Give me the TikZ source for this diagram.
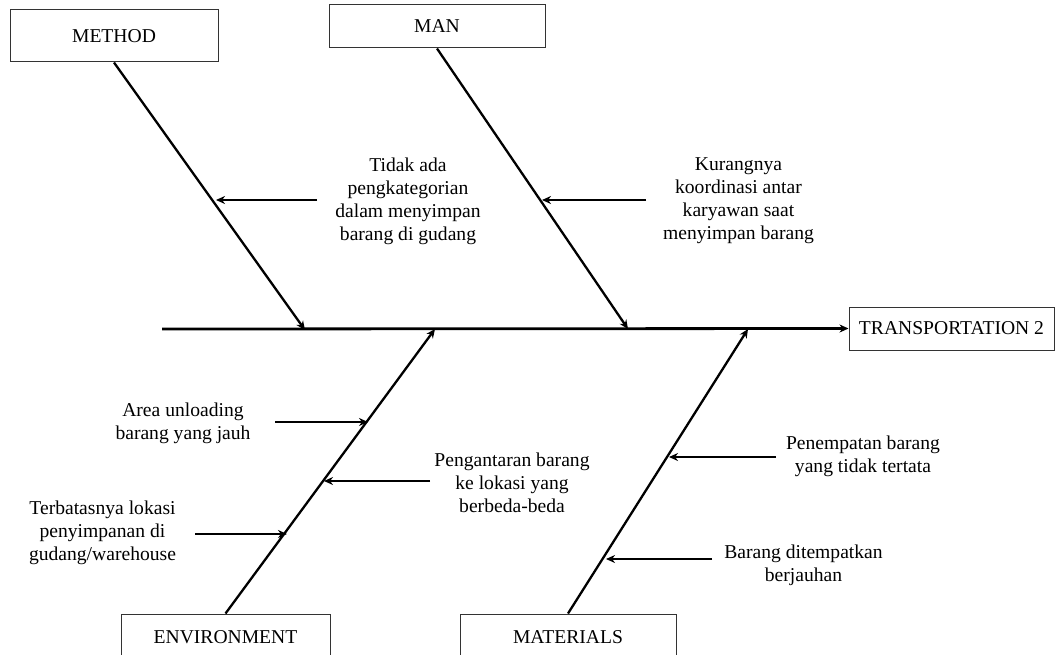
\documentclass[tikz,border=0pt]{standalone}
\usepackage{fontspec}
\setmainfont{Liberation Serif}
\usetikzlibrary{arrows.meta,positioning,calc}

\begin{document}
\begin{tikzpicture}[
  x=1pt, y=-1pt,
  cat/.style={
    draw=black!80,
    line width=1pt,
    minimum width=#1,
    inner sep=0pt,
    font=\fontsize{19.6}{23}\selectfont
  },
  cause/.style={
    align=center,
    inner sep=0pt,
    font=\fontsize{19.6}{23}\selectfont
  },
  spine/.style={line width=2.8pt, -{Stealth[length=9pt,width=8pt]}},
  bone/.style={line width=2.3pt, -{Stealth[length=9pt,width=8pt]}},
  sub/.style={line width=2.8pt, -{Stealth[length=9pt,width=8pt]}}
]
\useasboundingbox (0,0) rectangle (1059,655);

% -------- Category boxes --------
\node[cat=208pt, minimum height=52pt] (method) at (114,36) {METHOD};
\node[cat=216pt, minimum height=43pt] (man) at (437,26.5) {MAN};
\node[cat=205pt, minimum height=43pt] (trans) at (951.5,328.5) {TRANSPORTATION 2};
\node[cat=209pt, minimum height=46pt] (env) at (225.5,637) {ENVIRONMENT};
\node[cat=216pt, minimum height=46pt] (mat) at (568,637) {MATERIALS};

% -------- Spine --------
\coordinate (tail) at (162,329);
\draw[spine] (tail) -- (trans.west);

% -------- Bones --------
\coordinate (pmethod) at (305,330);
\coordinate (pman) at (628,329);
\coordinate (penv) at (435,329);
\coordinate (pmat) at (748,329);
\draw[bone] (method.south) -- (pmethod);
\draw[bone] (man.south) -- (pman);
\draw[bone] (env.north) -- (penv);
\draw[bone] (mat.north) -- (pmat);

% -------- Causes: method --------
\node[cause] (c1) at (408,201)
{Tidak ada\\pengkategorian\\dalam menyimpan\\barang di gudang};
\coordinate (c1a) at (317,200);
\coordinate (c1b) at (216,200);
\draw[sub] (c1a) -- (c1b);

% -------- Causes: man --------
\node[cause] (c2) at (738.5,201)
{Kurangnya\\koordinasi antar\\karyawan saat\\menyimpan barang};
\coordinate (c2a) at (646,200);
\coordinate (c2b) at (542,200);
\draw[sub] (c2a) -- (c2b);

% -------- Causes: environment --------
\node[cause] (c3) at (183,423)
{Area unloading\\barang yang jauh};
\coordinate (c3a) at (275,422);
\coordinate (c3b) at (368,422);
\draw[sub] (c3a) -- (c3b);

\node[cause] (c4) at (102.5,533)
{Terbatasnya lokasi\\penyimpanan di\\gudang/warehouse};
\coordinate (c4a) at (195,534);
\coordinate (c4b) at (287,534);
\draw[sub] (c4a) -- (c4b);

\node[cause] (c5) at (512,483)
{Pengantaran barang\\ke lokasi yang\\berbeda-beda};
\coordinate (c5a) at (430,481);
\coordinate (c5b) at (324,481);
\draw[sub] (c5a) -- (c5b);

% -------- Causes: materials --------
\node[cause] (c6) at (863,456)
{Penempatan barang\\yang tidak tertata};
\coordinate (c6a) at (776,457);
\coordinate (c6b) at (669,457);
\draw[sub] (c6a) -- (c6b);

\node[cause] (c7) at (803.5,565)
{Barang ditempatkan\\berjauhan};
\coordinate (c7a) at (712,559);
\coordinate (c7b) at (606,559);
\draw[sub] (c7a) -- (c7b);

\end{tikzpicture}
\end{document}
